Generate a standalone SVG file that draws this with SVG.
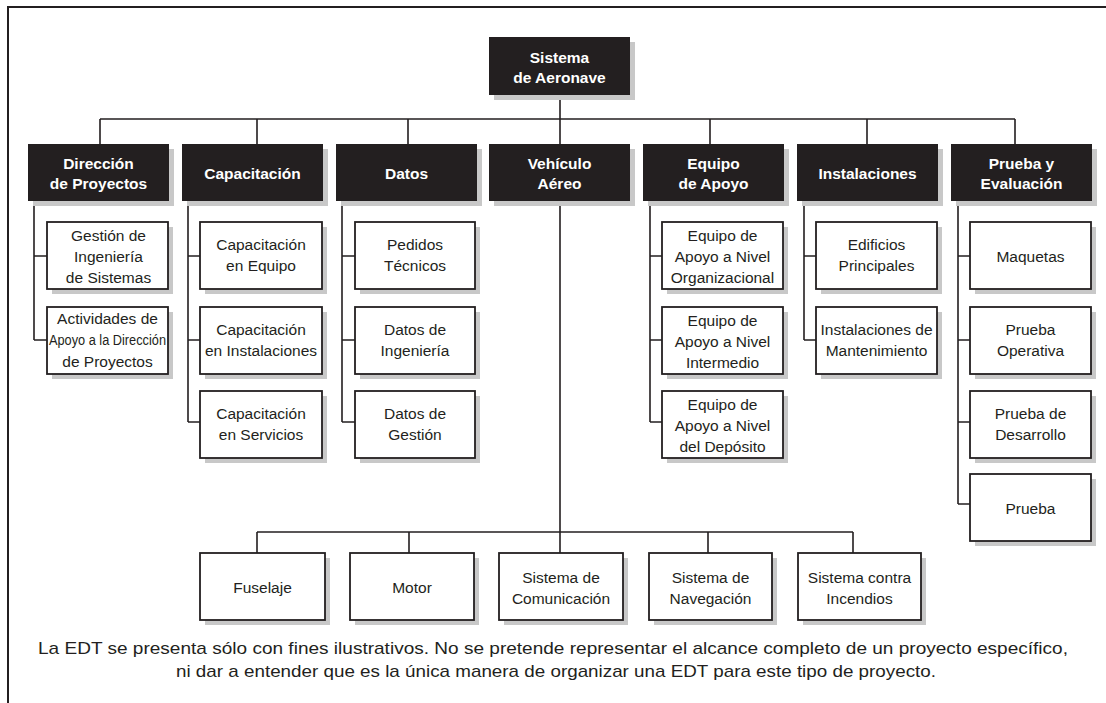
<svg xmlns="http://www.w3.org/2000/svg" width="1106" height="703" viewBox="0 0 1106 703">
<style>
.frame{fill:none;stroke:#231f20;stroke-width:2}
.wire{fill:none;stroke:#231f20;stroke-width:1.6}
.shadow{fill:#c8c8c8}
.head{fill:#231f20}
.box{fill:#fff;stroke:#231f20;stroke-width:1.8}
.ht{font-family:"Liberation Sans",Arial,sans-serif;font-weight:bold;font-size:15.5px;fill:#fff;text-anchor:middle}
.bt{font-family:"Liberation Sans",Arial,sans-serif;font-size:15.5px;fill:#231f20;text-anchor:middle}
.note{font-family:"Liberation Sans",Arial,sans-serif;font-size:17px;fill:#231f20;text-anchor:middle}
</style>
<rect width="1106" height="703" fill="#fff"/>
<path class="frame" d="M8,703 V7 H1106"/>

<!-- connectors -->
<g id="connectors" class="wire">
  <path d="M560,95 V119 M100,119 H1015"/>
  <path d="M100,119 V144 M257,119 V144 M408,119 V144 M560,119 V144 M710,119 V144 M867,119 V144 M1015,119 V144"/>
  <path d="M34,201 V340 M34,256 H47 M34,340 H47"/>
  <path d="M188,201 V422 M188,256 H200 M188,340 H200 M188,422 H200"/>
  <path d="M342,201 V422 M342,256 H355 M342,340 H355 M342,422 H355"/>
  <path d="M560,201 V553 M257,532 H853 M257,532 V553 M409,532 V553 M708,532 V553 M853,532 V553"/>
  <path d="M650,201 V422 M650,256 H662 M650,340 H662 M650,422 H662"/>
  <path d="M804,201 V340 M804,256 H816 M804,340 H816"/>
  <path d="M958,201 V504 M958,256 H970 M958,340 H970 M958,422 H970 M958,504 H970"/>
</g>

<!-- root -->
<g id="n-root">
  <rect class="shadow" x="494" y="42" width="141" height="58"/>
  <rect class="head" x="489" y="37" width="141" height="58"/>
  <text class="ht" x="559.5" y="62.5">Sistema</text>
  <text class="ht" x="559.5" y="82.5">de Aeronave</text>
</g>

<!-- level 1 -->
<g id="n-direccion">
  <rect class="shadow" x="33" y="149" width="141" height="57"/>
  <rect class="head" x="28" y="144" width="141" height="57"/>
  <text class="ht" x="98.5" y="168.5">Dirección</text>
  <text class="ht" x="98.5" y="188.5">de Proyectos</text>
</g>
<g id="n-capacitacion">
  <rect class="shadow" x="187" y="149" width="141" height="57"/>
  <rect class="head" x="182" y="144" width="141" height="57"/>
  <text class="ht" x="252.5" y="178.5">Capacitación</text>
</g>
<g id="n-datos">
  <rect class="shadow" x="341" y="149" width="141" height="57"/>
  <rect class="head" x="336" y="144" width="141" height="57"/>
  <text class="ht" x="406.5" y="178.5">Datos</text>
</g>
<g id="n-vehiculo">
  <rect class="shadow" x="494" y="149" width="141" height="57"/>
  <rect class="head" x="489" y="144" width="141" height="57"/>
  <text class="ht" x="559.5" y="168.5">Vehículo</text>
  <text class="ht" x="559.5" y="188.5">Aéreo</text>
</g>
<g id="n-equipo">
  <rect class="shadow" x="648" y="149" width="141" height="57"/>
  <rect class="head" x="643" y="144" width="141" height="57"/>
  <text class="ht" x="713.5" y="168.5">Equipo</text>
  <text class="ht" x="713.5" y="188.5">de Apoyo</text>
</g>
<g id="n-instalaciones">
  <rect class="shadow" x="802" y="149" width="141" height="57"/>
  <rect class="head" x="797" y="144" width="141" height="57"/>
  <text class="ht" x="867.5" y="178.5">Instalaciones</text>
</g>
<g id="n-prueba">
  <rect class="shadow" x="956" y="149" width="141" height="57"/>
  <rect class="head" x="951" y="144" width="141" height="57"/>
  <text class="ht" x="1021.5" y="168.5">Prueba y</text>
  <text class="ht" x="1021.5" y="188.5">Evaluación</text>
</g>

<!-- Dirección de Proyectos -->
<g id="n-gestion-ing">
  <rect class="shadow" x="52" y="227" width="121" height="67"/>
  <rect class="box" x="47" y="222" width="121" height="67"/>
  <text class="bt" x="108.5" y="240.5">Gestión de</text>
  <text class="bt" x="108.5" y="261.5">Ingeniería</text>
  <text class="bt" x="108.5" y="282.5">de Sistemas</text>
</g>
<g id="n-actividades">
  <rect class="shadow" x="52" y="312" width="121" height="67"/>
  <rect class="box" x="47" y="307" width="121" height="67"/>
  <text class="bt" x="107.5" y="323.5">Actividades de</text>
  <text class="bt" x="107.5" y="345" textLength="117" lengthAdjust="spacingAndGlyphs">Apoyo a la Dirección</text>
  <text class="bt" x="107.5" y="366.5">de Proyectos</text>
</g>

<!-- Capacitación -->
<g id="n-cap-equipo">
  <rect class="shadow" x="205" y="227" width="122" height="67"/>
  <rect class="box" x="200" y="222" width="122" height="67"/>
  <text class="bt" x="261" y="249.5">Capacitación</text>
  <text class="bt" x="261" y="270.5">en Equipo</text>
</g>
<g id="n-cap-instal">
  <rect class="shadow" x="205" y="312" width="122" height="67"/>
  <rect class="box" x="200" y="307" width="122" height="67"/>
  <text class="bt" x="261" y="334.5">Capacitación</text>
  <text class="bt" x="261" y="355.5">en Instalaciones</text>
</g>
<g id="n-cap-serv">
  <rect class="shadow" x="205" y="396" width="122" height="67"/>
  <rect class="box" x="200" y="391" width="122" height="67"/>
  <text class="bt" x="261" y="418.5">Capacitación</text>
  <text class="bt" x="261" y="439.5">en Servicios</text>
</g>

<!-- Datos -->
<g id="n-pedidos">
  <rect class="shadow" x="360" y="227" width="120" height="67"/>
  <rect class="box" x="355" y="222" width="120" height="67"/>
  <text class="bt" x="415" y="249.5">Pedidos</text>
  <text class="bt" x="415" y="270.5">Técnicos</text>
</g>
<g id="n-datos-ing">
  <rect class="shadow" x="360" y="312" width="120" height="67"/>
  <rect class="box" x="355" y="307" width="120" height="67"/>
  <text class="bt" x="415" y="334.5">Datos de</text>
  <text class="bt" x="415" y="355.5">Ingeniería</text>
</g>
<g id="n-datos-gest">
  <rect class="shadow" x="360" y="396" width="120" height="67"/>
  <rect class="box" x="355" y="391" width="120" height="67"/>
  <text class="bt" x="415" y="418.5">Datos de</text>
  <text class="bt" x="415" y="439.5">Gestión</text>
</g>

<!-- Equipo de Apoyo -->
<g id="n-eq-org">
  <rect class="shadow" x="667" y="227" width="121" height="67"/>
  <rect class="box" x="662" y="222" width="121" height="67"/>
  <text class="bt" x="722.5" y="240.5">Equipo de</text>
  <text class="bt" x="722.5" y="261.5">Apoyo a Nivel</text>
  <text class="bt" x="722.5" y="282.5">Organizacional</text>
</g>
<g id="n-eq-int">
  <rect class="shadow" x="667" y="312" width="121" height="67"/>
  <rect class="box" x="662" y="307" width="121" height="67"/>
  <text class="bt" x="722.5" y="325.5">Equipo de</text>
  <text class="bt" x="722.5" y="346.5">Apoyo a Nivel</text>
  <text class="bt" x="722.5" y="367.5">Intermedio</text>
</g>
<g id="n-eq-dep">
  <rect class="shadow" x="667" y="396" width="121" height="67"/>
  <rect class="box" x="662" y="391" width="121" height="67"/>
  <text class="bt" x="722.5" y="409.5">Equipo de</text>
  <text class="bt" x="722.5" y="430.5">Apoyo a Nivel</text>
  <text class="bt" x="722.5" y="451.5">del Depósito</text>
</g>

<!-- Instalaciones -->
<g id="n-edificios">
  <rect class="shadow" x="821" y="227" width="121" height="67"/>
  <rect class="box" x="816" y="222" width="121" height="67"/>
  <text class="bt" x="876.5" y="249.5">Edificios</text>
  <text class="bt" x="876.5" y="270.5">Principales</text>
</g>
<g id="n-mant">
  <rect class="shadow" x="821" y="312" width="121" height="67"/>
  <rect class="box" x="816" y="307" width="121" height="67"/>
  <text class="bt" x="876.5" y="334.5">Instalaciones de</text>
  <text class="bt" x="876.5" y="355.5">Mantenimiento</text>
</g>

<!-- Prueba y Evaluación -->
<g id="n-maquetas">
  <rect class="shadow" x="975" y="227" width="121" height="67"/>
  <rect class="box" x="970" y="222" width="121" height="67"/>
  <text class="bt" x="1030.5" y="262">Maquetas</text>
</g>
<g id="n-operativa">
  <rect class="shadow" x="975" y="312" width="121" height="67"/>
  <rect class="box" x="970" y="307" width="121" height="67"/>
  <text class="bt" x="1030.5" y="334.5">Prueba</text>
  <text class="bt" x="1030.5" y="355.5">Operativa</text>
</g>
<g id="n-desarrollo">
  <rect class="shadow" x="975" y="396" width="121" height="67"/>
  <rect class="box" x="970" y="391" width="121" height="67"/>
  <text class="bt" x="1030.5" y="418.5">Prueba de</text>
  <text class="bt" x="1030.5" y="439.5">Desarrollo</text>
</g>
<g id="n-prueba-final">
  <rect class="shadow" x="975" y="479" width="121" height="67"/>
  <rect class="box" x="970" y="474" width="121" height="67"/>
  <text class="bt" x="1030.5" y="514">Prueba</text>
</g>

<!-- Vehículo Aéreo -->
<g id="n-fuselaje">
  <rect class="shadow" x="205" y="558" width="125" height="67"/>
  <rect class="box" x="200" y="553" width="125" height="67"/>
  <text class="bt" x="262.5" y="593">Fuselaje</text>
</g>
<g id="n-motor">
  <rect class="shadow" x="355" y="558" width="124" height="67"/>
  <rect class="box" x="350" y="553" width="124" height="67"/>
  <text class="bt" x="412" y="593">Motor</text>
</g>
<g id="n-comunicacion">
  <rect class="shadow" x="504" y="558" width="124" height="67"/>
  <rect class="box" x="499" y="553" width="124" height="67"/>
  <text class="bt" x="561" y="582.5">Sistema de</text>
  <text class="bt" x="561" y="603.5">Comunicación</text>
</g>
<g id="n-navegacion">
  <rect class="shadow" x="654" y="558" width="123" height="67"/>
  <rect class="box" x="649" y="553" width="123" height="67"/>
  <text class="bt" x="710.5" y="582.5">Sistema de</text>
  <text class="bt" x="710.5" y="603.5">Navegación</text>
</g>
<g id="n-incendios">
  <rect class="shadow" x="803" y="558" width="123" height="67"/>
  <rect class="box" x="798" y="553" width="123" height="67"/>
  <text class="bt" x="859.5" y="582.5">Sistema contra</text>
  <text class="bt" x="859.5" y="603.5">Incendios</text>
</g>

<!-- note -->
<g id="note">
  <text class="note" x="553" y="654" textLength="1030" lengthAdjust="spacingAndGlyphs">La EDT se presenta sólo con fines ilustrativos. No se pretende representar el alcance completo de un proyecto específico,</text>
  <text class="note" x="556" y="677" textLength="760" lengthAdjust="spacingAndGlyphs">ni dar a entender que es la única manera de organizar una EDT para este tipo de proyecto.</text>
</g>
</svg>
